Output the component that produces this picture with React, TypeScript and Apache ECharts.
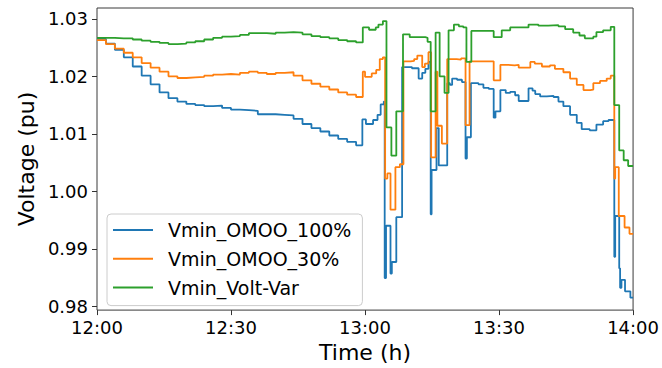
import { useEffect, useRef } from "react";
import * as echarts from "echarts";

// Minutes after 12:00 at which each voltage level begins (step-wise profile)
const omoo100Time = [0, 2, 4, 6, 8, 10, 12, 14, 16, 18, 20, 22, 24, 26, 28, 30, 32, 34, 36, 38, 40, 42, 44, 46, 48, 50, 52, 54, 56, 58,
  59.4, 60.2, 61.8, 62.8, 63.5, 64.2, 64.4, 64.7, 65.7, 66.0, 67.0, 68.3, 70.5, 72.0, 72.8, 73.5, 74.2, 74.7, 74.9, 76.0, 76.5,
  78.4, 79.0, 79.5, 80.6, 81.7, 82.5, 82.8, 83.7, 85.4, 86.5, 87.7, 88.8, 89.2, 90.3, 91.5, 92.5, 93.6, 94.4, 96.6, 97.5, 98.1,
  99.2, 100.7, 102.2, 103.3, 104.4, 105.9, 107.4, 108.5, 110.3, 111.8, 113.3, 114.5, 115.8, 116.0, 116.9, 117.1, 117.4, 118.2, 119.4, 120];
const omoo100Volt = [1.0265, 1.0257, 1.0246, 1.0233, 1.0217, 1.0201, 1.0186, 1.0172, 1.0162, 1.0156, 1.0152, 1.015, 1.0148, 1.0149, 1.0145,
  1.0142, 1.0141, 1.014, 1.0134, 1.0134, 1.0133, 1.0132, 1.0126, 1.0117, 1.011, 1.0104, 1.0097, 1.0091, 1.0086, 1.008,
  1.0125, 1.0117, 1.0124, 1.0133, 1.0151, 1.0156, 0.9849, 0.994, 0.9857, 0.9877, 0.9955, 1.0216, 1.0214, 1.0196, 1.0206, 1.0213, 1.0225,
  0.996, 1.0037, 1.011, 1.0045, 1.0188, 1.0185, 1.0196, 1.0194, 1.019, 1.0057, 1.0094, 1.0188, 1.0186, 1.018, 1.0178, 1.0128, 1.0139,
  1.0176, 1.0171, 1.0173, 1.0167, 1.0157, 1.0179, 1.0175, 1.0169, 1.0165, 1.0166, 1.0164, 1.0156, 1.0148, 1.0133, 1.0119, 1.0108,
  1.0106, 1.0116, 1.0122, 1.0124, 0.9886, 0.9957, 0.9866, 0.9832, 0.9846, 0.9826, 0.9815, 0.9815];

const omoo30Time = [0, 2, 4, 6, 8, 10, 12, 14, 16, 18, 20, 22, 24, 26, 28, 30, 32, 34, 36, 38, 40, 42, 44, 46, 48, 50, 52, 54, 56, 58,
  59.5, 60.0, 61.5, 62.5, 63.3, 64.0, 64.5, 65.0, 65.7, 66.8, 67.8, 68.6, 70.2, 71.0, 71.7, 72.8, 73.4, 74.2, 74.8, 75.8, 76.2, 77.2,
  78.4, 80.5, 81.5, 82.5, 83.4, 88.8, 90.3, 92.0, 93.5, 94.4, 97.0, 98.0, 99.6, 101.4, 102.5, 104.4, 105.9, 107.4, 108.9, 110.4,
  111.1, 112.6, 114.1, 115.0, 115.8, 116.0, 116.8, 118.1, 119.2, 120];
const omoo30Volt = [1.0263, 1.0256, 1.0248, 1.0241, 1.0233, 1.0223, 1.0215, 1.0208, 1.02, 1.0197, 1.0198, 1.0199, 1.0201, 1.0203, 1.0204,
  1.0203, 1.0206, 1.0208, 1.0206, 1.0204, 1.0206, 1.0207, 1.0201, 1.0193, 1.0187, 1.0182, 1.0177, 1.0172, 1.0168, 1.0164,
  1.0208, 1.0199, 1.0205, 1.0211, 1.023, 1.0233, 1.0022, 1.0031, 0.9968, 1.0042, 1.0047, 1.0226, 1.0227, 1.023, 1.0236, 1.0216, 1.0222,
  1.0242, 1.0059, 1.0208, 1.0114, 1.0083, 1.023, 1.0229, 1.0231, 1.0115, 1.0226, 1.0193, 1.022, 1.0219, 1.022, 1.0215, 1.0225, 1.0222,
  1.0217, 1.0219, 1.0213, 1.0207, 1.0196, 1.0185, 1.0176, 1.0177, 1.0188, 1.0192, 1.0196, 1.0201, 1.0022, 1.0042, 0.9957, 0.9937,
  0.9926, 0.9926];

const voltVarTime = [0, 2, 4, 6, 8, 10, 12, 14, 16, 18, 20, 22, 24, 26, 28, 30, 32, 34, 36, 38, 40, 42, 44, 46, 48, 50, 52, 54, 56, 58,
  59.5, 60.9, 62.4, 63.0, 64.0, 64.8, 65.9, 67.0, 68.5, 70.0, 73.5, 74.0, 74.7, 75.8, 76.7, 77.8, 78.7, 79.9, 81.0, 82.0, 82.7, 83.8,
  88.8, 90.6, 92.5, 96.6, 98.8, 101.0, 103.3, 104.8, 106.6, 108.0, 109.2, 111.1, 111.8, 113.3, 115.0, 115.8, 116.9, 117.9, 118.9, 120];
const voltVarVolt = [1.0267, 1.0267, 1.0266, 1.0266, 1.0264, 1.0262, 1.026, 1.0258, 1.0256, 1.0257, 1.0259, 1.0261, 1.0264, 1.0267, 1.0269,
  1.027, 1.0272, 1.0275, 1.0275, 1.0274, 1.0276, 1.0277, 1.0276, 1.0273, 1.027, 1.0268, 1.0266, 1.0263, 1.0261, 1.0259,
  1.0285, 1.0281, 1.0285, 1.029, 1.0296, 1.0111, 1.0062, 1.0139, 1.0273, 1.0268, 1.0267, 1.026, 1.0139, 1.0276, 1.02, 1.0171, 1.028,
  1.029, 1.0287, 1.0285, 1.0225, 1.0279, 1.0268, 1.028, 1.0285, 1.029, 1.0288, 1.0289, 1.0287, 1.0282, 1.0276, 1.0271, 1.0266, 1.0269,
  1.0277, 1.028, 1.0286, 1.015, 1.0071, 1.0054, 1.0044, 1.0044];

const seriesNames = ["Vmin_OMOO_100%", "Vmin_OMOO_30%", "Vmin_Volt-Var"];
const seriesColors = ["#1f77b4", "#ff7f0e", "#2ca02c"];
const xTickLabels = ["12:00", "12:30", "13:00", "13:30", "14:00"];
const yTicks = [0.98, 0.99, 1.0, 1.01, 1.02, 1.03];

const FONT = "DejaVu Sans";

function pairs(t: number[], v: number[]) {
  return t.map((x, i) => [x, v[i]]);
}

export default function App() {
  const ref = useRef<HTMLDivElement>(null);

  useEffect(() => {
    document.body.style.margin = "0";
    const chart = echarts.init(ref.current!, null, { renderer: "svg" });
    const datasets = [
      pairs(omoo100Time, omoo100Volt),
      pairs(omoo30Time, omoo30Volt),
      pairs(voltVarTime, voltVarVolt),
    ];
    chart.setOption({
      animation: false,
      backgroundColor: "#ffffff",
      textStyle: { fontFamily: FONT },
      grid: {
        left: 97,
        top: 8,
        right: 27,
        bottom: 52,
        show: true,
        borderColor: "#3a3a3a",
        borderWidth: 1,
        backgroundColor: "transparent",
      },
      legend: {
        orient: "vertical",
        left: 107,
        top: 214,
        icon: "rect",
        itemWidth: 40,
        itemHeight: 2,
        itemGap: 8.8,
        padding: [6, 11, 8, 6],
        backgroundColor: "rgba(255,255,255,0.8)",
        borderColor: "#cccccc",
        borderWidth: 1,
        borderRadius: 4,
        textStyle: {
          fontFamily: FONT,
          fontSize: 19,
          color: "#000",
          lineHeight: 20,
          padding: [0, 0, 0, 10],
        },
        data: seriesNames,
      },
      xAxis: {
        type: "value",
        min: 0,
        max: 120,
        interval: 30,
        axisLine: { show: false },
        axisTick: { show: true, inside: false, length: 5, lineStyle: { color: "#333" } },
        splitLine: { show: false },
        axisLabel: {
          fontFamily: FONT,
          fontSize: 18,
          color: "#000",
          margin: 8,
          formatter: (v: number) => xTickLabels[Math.round(v / 30)] ?? "",
        },
        name: "Time (h)",
        nameLocation: "middle",
        nameGap: 29,
        nameTextStyle: { fontFamily: FONT, fontSize: 22, color: "#000" },
      },
      yAxis: {
        type: "value",
        min: 0.97933,
        max: 1.03188,
        axisLine: { show: false },
        axisTick: {
          show: true,
          inside: false,
          length: 5,
          lineStyle: { color: "#333" },
          customValues: yTicks,
        },
        splitLine: { show: false },
        axisLabel: {
          fontFamily: FONT,
          fontSize: 18,
          color: "#000",
          margin: 9,
          customValues: yTicks,
          formatter: (v: number) => v.toFixed(2),
        },
        name: "Voltage (pu)",
        nameLocation: "middle",
        nameGap: 58,
        nameTextStyle: { fontFamily: FONT, fontSize: 22, color: "#000" },
      },
      series: datasets.map((data, i) => ({
        name: seriesNames[i],
        type: "line",
        step: "end",
        data,
        symbol: "none",
        showSymbol: false,
        color: seriesColors[i],
        lineStyle: { width: 1.8, color: seriesColors[i] },
        z: 2 + i,
      })),
    });
    return () => chart.dispose();
  }, []);

  return <div ref={ref} style={{ width: 662, height: 368 }} />;
}
